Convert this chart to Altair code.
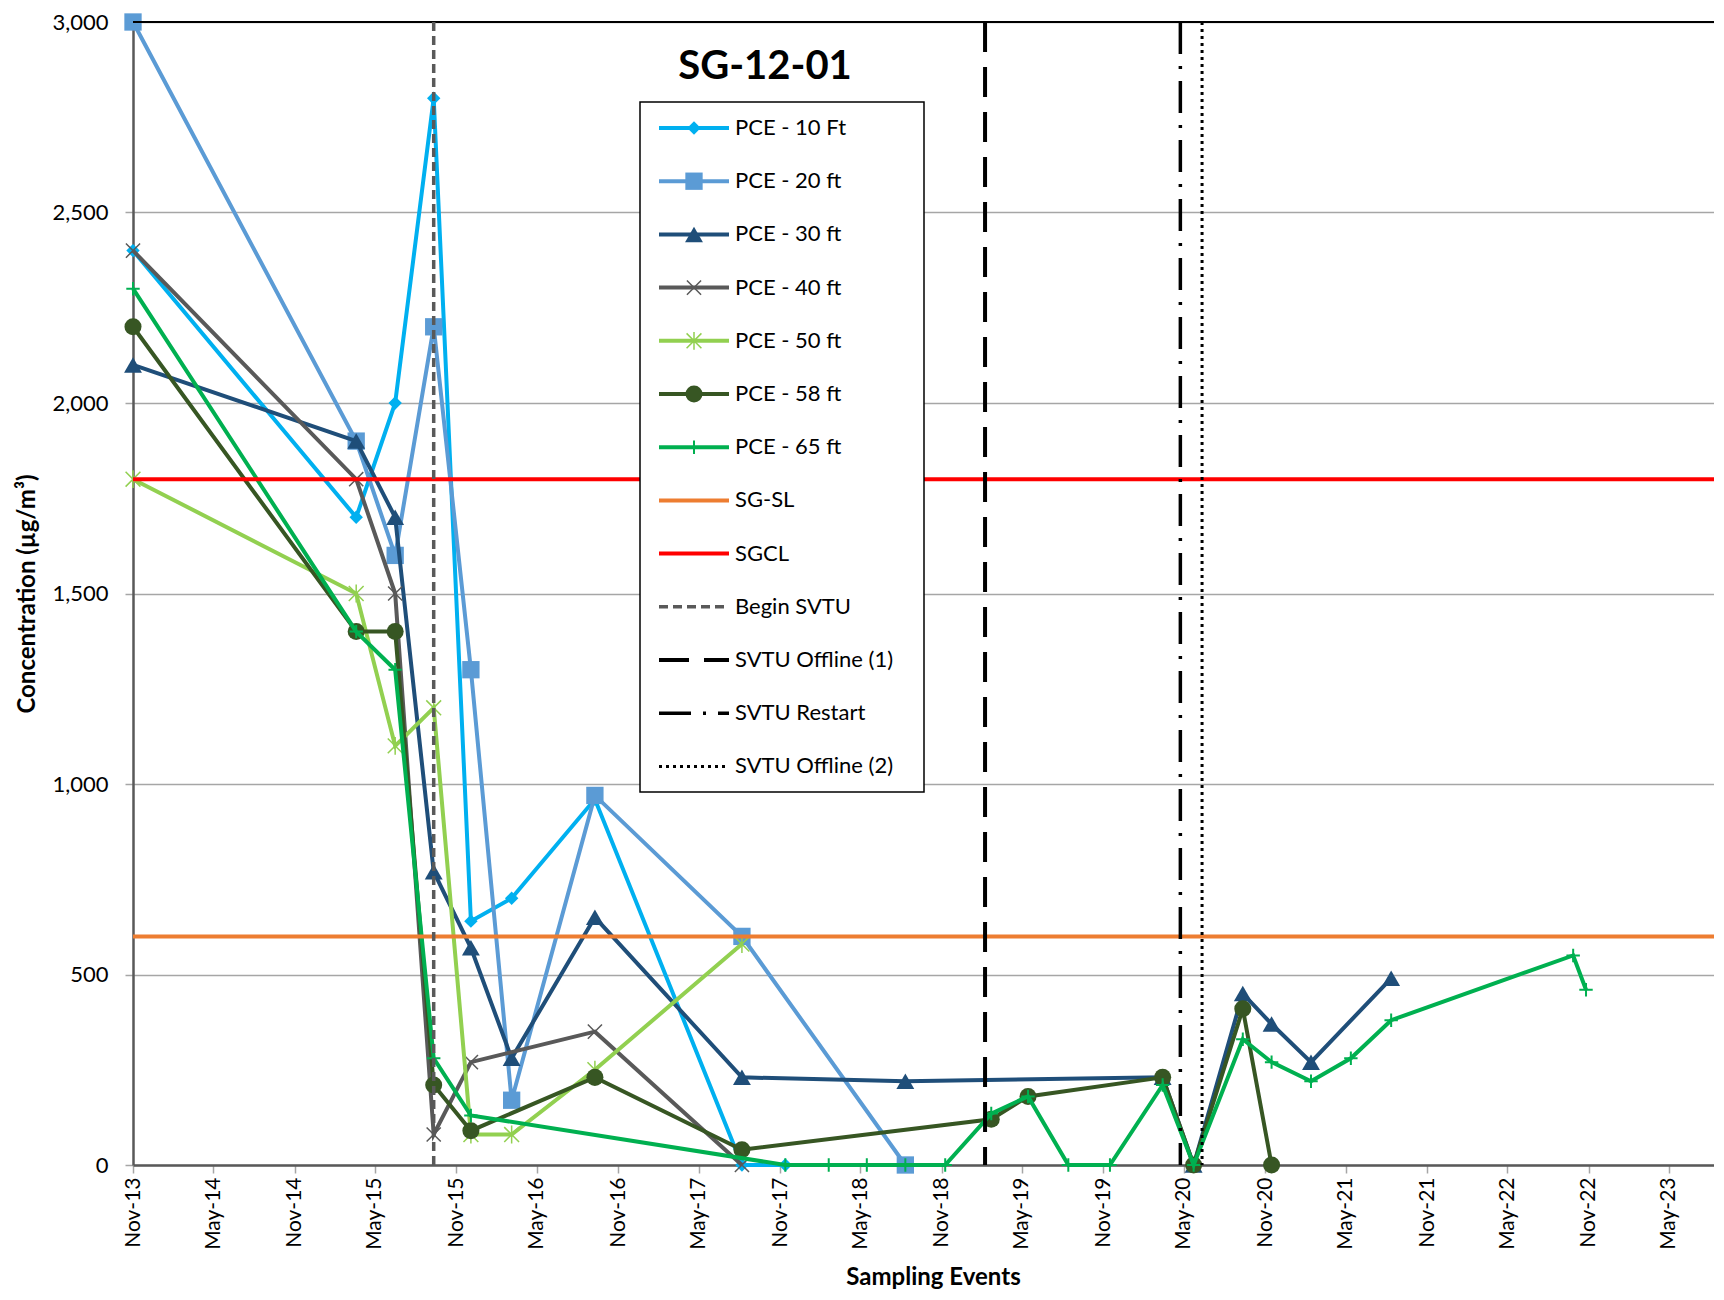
import altair as alt
import pandas as pd

FONT = "Lato"

# ---------------- data ----------------
pce10_dates = ["2013-11-01", "2015-03-20", "2015-06-16", "2015-09-11", "2015-12-04",
               "2016-03-05", "2016-09-09", "2017-08-07", "2017-11-13"]
pce10_vals = [2400, 1700, 2000, 2800, 640, 700, 960, 0, 0]

pce20_dates = ["2013-11-01", "2015-03-20", "2015-06-16", "2015-09-11", "2015-12-04",
               "2016-03-05", "2016-09-09", "2017-08-07", "2018-08-11"]
pce20_vals = [3000, 1900, 1600, 2200, 1300, 170, 970, 600, 0]

pce30_dates = ["2013-11-01", "2015-03-20", "2015-06-16", "2015-09-11", "2015-12-04",
               "2016-03-05", "2016-09-09", "2017-08-07", "2018-08-11", "2020-03-14",
               "2020-05-23", "2020-09-11", "2020-11-15", "2021-02-12", "2021-08-12"]
pce30_vals = [2100, 1900, 1700, 770, 570, 280, 650, 230, 220, 230, 0, 450, 370, 270, 490]

pce40_dates = ["2013-11-01", "2015-03-20", "2015-06-16", "2015-09-11", "2015-12-04",
               "2016-09-09", "2017-08-07"]
pce40_vals = [2400, 1800, 1500, 80, 270, 350, 0]

pce50_dates = ["2013-11-01", "2015-03-20", "2015-06-16", "2015-09-11", "2015-12-04",
               "2016-03-05", "2016-09-09", "2017-08-07"]
pce50_vals = [1800, 1500, 1100, 1200, 80, 80, 250, 580]

pce58_dates = ["2013-11-01", "2015-03-20", "2015-06-16", "2015-09-11", "2015-12-04",
               "2016-09-09", "2017-08-07", "2019-02-21", "2019-05-15", "2020-03-14",
               "2020-05-23", "2020-09-11", "2020-11-15"]
pce58_vals = [2200, 1400, 1400, 210, 90, 230, 40, 120, 180, 230, 0, 410, 0]

pce65_dates = ["2013-11-01", "2015-03-20", "2015-06-16", "2015-09-11", "2015-12-04",
               "2017-11-13", "2018-02-19", "2018-05-16", "2018-08-11", "2018-11-09",
               "2019-02-21", "2019-05-15", "2019-08-14", "2019-11-16", "2020-03-14",
               "2020-05-23", "2020-09-11", "2020-11-15", "2021-02-12", "2021-05-13",
               "2021-08-12", "2022-09-27", "2022-10-26"]
pce65_vals = [2300, 1400, 1300, 280, 130, 0, 0, 0, 0, 0, 135, 180, 0, 0, 210,
              0, 330, 270, 220, 280, 380, 550, 460]

sg_sl = 600
sgcl = 1800
begin_svtu = "2015-09-11"
svtu_offline1 = "2019-02-07"
svtu_restart = "2020-04-23"
svtu_offline2 = "2020-06-11"

y_ticks = [0, 500, 1000, 1500, 2000, 2500, 3000]
x_tick_dates = [(2013, 11)] + [(y, m) for y in range(2014, 2024) for m in (5, 11)][:19]

# ---------------- styles ----------------
X_PATH = "M-1,-1L1,1M-1,1L1,-1"
STAR_PATH = "M-1,-1L1,1M-1,1L1,-1M0,-1.2L0,1.2"
PLUS_PATH = "M-1,0L1,0M0,-1L0,1"

series = [
    ("PCE - 10 Ft", pce10_dates, pce10_vals, "#00B0F0", dict(shape="diamond", filled=True, size=180)),
    ("PCE - 20 ft", pce20_dates, pce20_vals, "#5B9BD5", dict(shape="square", filled=True, size=300)),
    ("PCE - 30 ft", pce30_dates, pce30_vals, "#1F4E79", dict(shape="triangle-up", filled=True, size=320)),
    ("PCE - 40 ft", pce40_dates, pce40_vals, "#595959", dict(shape=X_PATH, filled=False, size=200, strokeWidth=1.5)),
    ("PCE - 50 ft", pce50_dates, pce50_vals, "#92D050", dict(shape=STAR_PATH, filled=False, size=220, strokeWidth=1.5)),
    ("PCE - 58 ft", pce58_dates, pce58_vals, "#375623", dict(shape="circle", filled=True, size=290)),
    ("PCE - 65 ft", pce65_dates, pce65_vals, "#00B050", dict(shape=PLUS_PATH, filled=False, size=180, strokeWidth=2)),
]

vlines = [
    ("Begin SVTU", begin_svtu, "#595959", 3.5, [9, 5]),
    ("SVTU Offline (1)", svtu_offline1, "#000000", 4, [30, 15]),
    ("SVTU Restart", svtu_restart, "#000000", 3.5, [32, 12, 3, 12]),
    ("SVTU Offline (2)", svtu_offline2, "#000000", 3, [3, 4]),
]

W, H = 1581, 1143
LINE_W = 4

x_enc = alt.X(
    "date:T",
    scale=alt.Scale(type="utc",
                    domain=[alt.DateTime(year=2013, month=11, date=1, utc=True),
                            alt.DateTime(year=2023, month=8, date=11, utc=True)]),
    axis=alt.Axis(
        values=[alt.DateTime(year=y, month=m, date=1, utc=True) for y, m in x_tick_dates],
        format="%b-%y", labelAngle=-90, labelFont=FONT, labelFontSize=21, labelColor="#000000",
        labelPadding=4, tickSize=8, tickColor="#A6A6A6", tickWidth=1.5,
        domainColor="#595959", domainWidth=2.5, grid=False,
        title="Sampling Events", titleFont=FONT, titleFontSize=24, titleFontWeight="bold",
        titleColor="#000000", titleX=800, titleY=112, titleAlign="center", titleBaseline="middle",
    ),
)
y_enc = alt.Y(
    "value:Q",
    scale=alt.Scale(domain=[0, 3000], nice=False),
    axis=alt.Axis(
        values=y_ticks, format=",.0f", labelFont=FONT, labelFontSize=22, labelColor="#000000",
        labelPadding=17, tickSize=8, tickColor="#A6A6A6", tickWidth=1.5,
        domainColor="#595959", domainWidth=2.5, grid=True, gridColor="#A6A6A6", gridWidth=1.5,
        title="Concentration (µg/m³)", titleFont=FONT, titleFontSize=24, titleFontWeight="bold",
        titleColor="#000000", titleX=-106, titleY=H / 2, titleAngle=-90,
        titleAlign="center", titleBaseline="middle",
    ),
)

layers = []
for name, dts, vals, color, mk in series:
    df = pd.DataFrame({"date": dts, "value": vals})
    base = alt.Chart(df)
    layers.append(base.mark_line(color=color, strokeWidth=LINE_W).encode(x=x_enc, y=y_enc))
    layers.append(base.mark_point(color=color, opacity=1, **mk).encode(x=x_enc, y=y_enc))

# horizontal criteria lines and top border
hl = pd.DataFrame({"value": [sg_sl]})
layers.append(alt.Chart(hl).mark_rule(color="#ED7D31", strokeWidth=LINE_W).encode(y=y_enc))
hl2 = pd.DataFrame({"value": [sgcl]})
layers.append(alt.Chart(hl2).mark_rule(color="#FF0000", strokeWidth=LINE_W).encode(y=y_enc))
top = pd.DataFrame({"value": [3000]})
layers.append(alt.Chart(top).mark_rule(color="#000000", strokeWidth=2).encode(y=y_enc))

for name, d, color, sw, dash in vlines:
    vdf = pd.DataFrame({"date": [d]})
    layers.append(alt.Chart(vdf).mark_rule(color=color, strokeWidth=sw, strokeDash=dash).encode(x=x_enc))

# ---------------- title ----------------
one = pd.DataFrame({"a": [0]})
layers.append(alt.Chart(one).mark_text(text="SG-12-01", font=FONT, fontSize=40, fontWeight="bold",
                                       align="center", baseline="middle", color="#000000")
              .encode(x=alt.value(632), y=alt.value(45)))

# ---------------- legend ----------------
LX0, LX1, LY0, LY1 = 507, 791, 80, 770
layers.append(alt.Chart(one).mark_rect(fill="white", stroke="#000000", strokeWidth=1.5)
              .encode(x=alt.value(LX0), x2=alt.value(LX1), y=alt.value(LY0), y2=alt.value(LY1)))

legend_items = []
for name, dts, vals, color, mk in series:
    legend_items.append((name, color, LINE_W, None, mk))
legend_items.append(("SG-SL", "#ED7D31", LINE_W, None, None))
legend_items.append(("SGCL", "#FF0000", LINE_W, None, None))
for name, d, color, sw, dash in vlines:
    legend_items.append((name, color, sw, dash, None))

row0, row_step = 106, 53.2
sym_x0, sym_x1, sym_mid, lab_x = 526, 596, 561, 602
for i, (name, color, sw, dash, mk) in enumerate(legend_items):
    yy = row0 + row_step * i
    rule_kw = dict(color=color, strokeWidth=sw)
    if dash:
        rule_kw["strokeDash"] = dash
    layers.append(alt.Chart(one).mark_rule(**rule_kw)
                  .encode(x=alt.value(sym_x0), x2=alt.value(sym_x1), y=alt.value(yy)))
    if mk:
        layers.append(alt.Chart(one).mark_point(color=color, opacity=1, **mk)
                      .encode(x=alt.value(sym_mid), y=alt.value(yy)))
    layers.append(alt.Chart(one).mark_text(text=name, font=FONT, fontSize=22, align="left",
                                           baseline="middle", color="#000000")
                  .encode(x=alt.value(lab_x), y=alt.value(yy)))

chart = alt.layer(*layers).properties(
    width=W, height=H,
    autosize=alt.AutoSizeParams(type="none"),
    padding={"left": 125, "top": 14, "right": 0, "bottom": 127},
).configure_view(stroke=None).configure(background="white")

chart.save("out.html", embed_options={"renderer": "svg", "actions": False})
